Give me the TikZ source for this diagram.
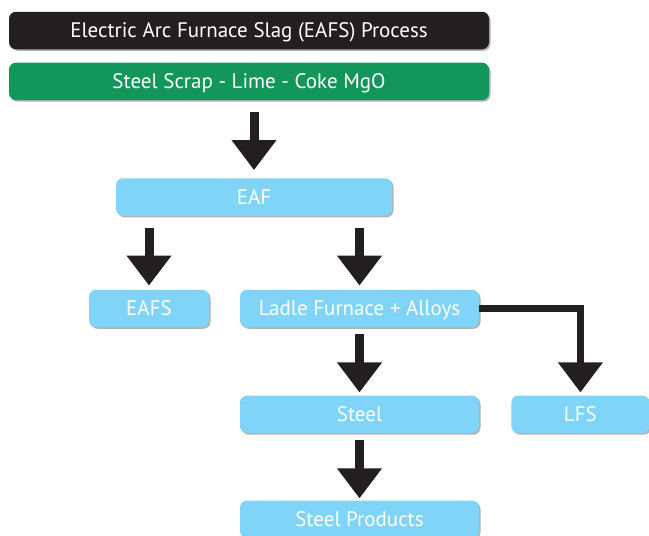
\documentclass[tikz,border=0pt]{standalone}
\usepackage{fontspec}
\setmainfont{PT Sans}
\usetikzlibrary{arrows.meta,positioning,shadows}
\definecolor{boxblack}{HTML}{231F20}
\definecolor{feedgreen}{HTML}{12965A}
\definecolor{unitblue}{HTML}{80D4F7}

\begin{document}
\begin{tikzpicture}[
  x=1pt, y=-1pt,
  font=\fontsize{21}{24}\selectfont,
  node distance=13pt and 32pt,
  base/.style={rounded corners=7pt, text=white, minimum height=37.5pt, inner sep=0pt,
    text height=14pt, text depth=0pt,
    drop shadow={shadow xshift=1.5pt, shadow yshift=-1.5pt, fill=black!50, opacity=.6}},
  head/.style={base, fill=boxblack, minimum width=480pt},
  feed/.style={base, fill=feedgreen, minimum width=480pt},
  unit/.style={base, fill=unitblue},
  arr/.style={-{Triangle[length=30pt, width=43pt]}, line width=9pt, draw=boxblack,
    shorten <=7pt, shorten >=3pt},
]
  \useasboundingbox (0,0) rectangle (649,536);

  \node[head] (title) at (249,30.5) {Electric Arc Furnace Slag (EAFS) Process};
  \node[feed, below=of title] (feed) {Steel Scrap - Lime - Coke MgO};

  \node[unit, minimum width=276pt] (eaf) at (254,197) {EAF};
  \node[unit, minimum width=120pt] (eafs) at (149,308.5) {EAFS};
  \node[unit, minimum width=239pt] (ladle) at (359.5,308.5) {Ladle Furnace + Alloys};
  \node[unit, minimum width=239pt, below=68pt of ladle] (steel) {Steel};
  \node[unit, minimum width=138pt, right=of steel] (lfs) {LFS};
  \node[unit, minimum width=239pt, below=67pt of steel] (products) {Steel Products};

  \draw[arr, shorten <=12pt, shorten >=8pt] (eaf |- feed.south) -- (eaf);
  \draw[arr, shorten <=12pt, shorten >=4pt] (eafs |- eaf.south) -- (eafs);
  \draw[arr, shorten <=12pt, shorten >=4pt] (ladle |- eaf.south) -- (ladle);
  \draw[arr] (ladle) -- (steel);
  \draw[arr, shorten >=2pt] (steel) -- (products);
  \draw[arr, line width=7pt, shorten <=0pt, line join=miter] (ladle.east) -| (lfs);
\end{tikzpicture}
\end{document}
